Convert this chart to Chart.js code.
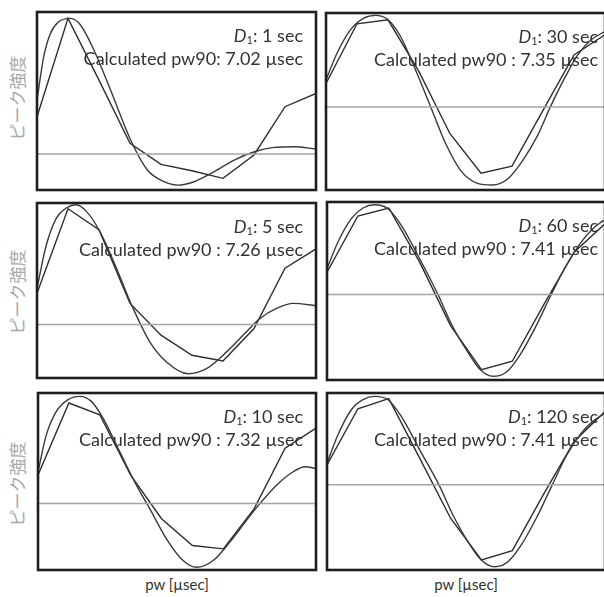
<!DOCTYPE html>
<html><head><meta charset="utf-8">
<script src="https://cdn.jsdelivr.net/npm/chart.js@4.4.0/dist/chart.umd.min.js"></script>
<style>
html,body{margin:0;padding:0;background:#fff;overflow:hidden;width:604px;height:597px;}
body{position:relative;}
canvas{position:absolute;}
.ylab{position:absolute;font-family:"Noto Sans CJK JP";font-size:17px;color:#a8a8a8;transform:translate(-50%,-50%) rotate(-90deg);white-space:nowrap;}
.xlab{position:absolute;font-family:Lato;font-size:15px;color:#333;transform:translate(-50%,-50%);white-space:nowrap;}
</style></head><body>
<div class="ylab" style="left:16px;top:98px">ピーク強度</div>
<div class="ylab" style="left:16px;top:292px">ピーク強度</div>
<div class="ylab" style="left:16px;top:484px">ピーク強度</div>
<div class="xlab" style="left:177px;top:584px">pw [µsec]</div>
<div class="xlab" style="left:466px;top:584px">pw [µsec]</div>
<script>
// pulse widths (µs) of measured points
const pwSteps = [1,5,9,13,17,21,25,29,33,37];
const d1Labels = ['1 sec','5 sec','10 sec','30 sec','60 sec','120 sec'];
const pw90Labels = ['Calculated pw90: 7.02 µsec','Calculated pw90 : 7.26 µsec','Calculated pw90 : 7.32 µsec',
                    'Calculated pw90 : 7.35 µsec','Calculated pw90 : 7.41 µsec','Calculated pw90 : 7.41 µsec'];

// D1 = 1 sec
const meas_1s = [0.275,1.0,0.545,0.079,-0.076,-0.123,-0.179,-0.007,0.349,0.447];
const fitPw_1s = [1.0,1.86,2.73,3.80,5.32,6.61,8.34,10.49,13.08,15.24,17.40,19.12,21.28,23.87,26.46,29.05,31.64,34.23,37.0];
const fitVal_1s = [0.398,0.717,0.889,0.975,1.0,0.951,0.767,0.472,0.103,-0.118,-0.204,-0.229,-0.204,-0.130,-0.044,0.017,0.049,0.054,0.037];
// D1 = 5 sec
const meas_5s = [0.260,0.966,0.791,0.176,-0.089,-0.257,-0.304,-0.034,0.469,0.631];
const fitPw_5s = [1,2.21,3.50,4.79,6.08,7.37,9.10,11.25,13.40,15.55,17.71,20.51,22.87,25.46,27.61,29.76,31.92,34.07,37.0];
const fitVal_5s = [0.302,0.665,0.888,0.972,1.0,0.944,0.777,0.469,0.134,-0.145,-0.313,-0.411,-0.369,-0.229,-0.089,0.050,0.134,0.176,0.156];
// D1 = 10 sec
const meas_10s = [0.266,0.938,0.828,0.266,-0.141,-0.391,-0.422,-0.047,0.516,0.703];
const fitPw_10s = [1,2.08,3.38,4.89,6.40,7.91,9.42,11.58,13.74,15.47,17.63,19.79,21.52,23.68,25.84,28.0,29.73,31.89,34.05,35.56,37.0];
const fitVal_10s = [0.297,0.641,0.859,0.969,1.0,0.953,0.797,0.484,0.172,-0.047,-0.328,-0.531,-0.594,-0.531,-0.359,-0.156,0,0.172,0.297,0.344,0.328];
// D1 = 30 sec
const meas_30s = [0.256,0.908,0.952,0.385,-0.293,-0.725,-0.648,-0.037,0.568,0.788];
const fitPw_30s = [1.00,2.42,4.15,5.88,7.39,8.90,10.62,12.56,14.51,16.45,18.39,20.55,22.49,24.43,26.37,28.31,29.95,31.77,33.49,35.22,36.99];
const fitVal_30s = [0.293,0.586,0.842,0.971,1.0,0.960,0.769,0.403,0,-0.403,-0.696,-0.835,-0.853,-0.788,-0.586,-0.311,0,0.311,0.568,0.733,0.824];
// D1 = 60 sec
const meas_60s = [0.249,0.874,0.963,0.361,-0.346,-0.836,-0.743,-0.123,0.472,0.788];
const fitPw_60s = [1,2.42,4.15,5.66,7.17,8.90,10.62,13.0,15.37,17.31,19.25,20.76,22.49,24.21,25.94,28.10,30.04,31.98,33.92,35.43,36.81];
const fitVal_60s = [0.286,0.584,0.844,0.963,1.0,0.955,0.770,0.398,0,-0.364,-0.643,-0.829,-0.911,-0.866,-0.680,-0.346,0,0.323,0.584,0.732,0.825];
// D1 = 120 sec
const meas_120s = [0.226,0.860,0.974,0.302,-0.377,-0.849,-0.743,-0.113,0.491,0.830];
const fitPw_120s = [1,2.42,4.15,5.66,7.17,8.90,10.62,13.0,15.50,17.31,19.25,20.98,22.70,24.43,26.16,28.31,30.17,32.07,33.92,35.43,36.81];
const fitVal_120s = [0.245,0.566,0.849,0.962,1.0,0.962,0.774,0.396,0,-0.340,-0.642,-0.849,-0.925,-0.868,-0.679,-0.340,0,0.340,0.585,0.717,0.800];

const yMins = [-0.265,-0.447,-0.619,-0.908,-0.952,-0.962];
const yMaxs = [1.047,1.014,1.031,1.026,1.030,1.038];

const measSets = [meas_1s,meas_5s,meas_10s,meas_30s,meas_60s,meas_120s];
const fitPwSets = [fitPw_1s,fitPw_5s,fitPw_10s,fitPw_30s,fitPw_60s,fitPw_120s];
const fitValSets = [fitVal_1s,fitVal_5s,fitVal_10s,fitVal_30s,fitVal_60s,fitVal_120s];

// layout: plot boxes [left, top, right, bottom], text right inset
const boxes = [[37,12,316,190],[37,203,316,378],[38,393,316,570],[326,13,605,190],[327,202,605,380],[327,393,605,570]];
const textInset = [13,13,13,7,7,7];
const PAD = 4;

const framePlugin = {
  id:'frame',
  afterDraw(chart){
    const a = chart.chartArea, c = chart.ctx;
    c.save(); c.strokeStyle='#1e1e1e'; c.lineWidth=2.6;
    c.strokeRect(a.left,a.top,a.right-a.left,a.bottom-a.top); c.restore();
  }
};
const textPlugin = {
  id:'ptext',
  beforeDatasetsDraw(chart, args, opts){
    const a = chart.chartArea, c = chart.ctx;
    const rx = a.right - opts.inset;
    c.save(); c.fillStyle='#333'; c.textBaseline='middle';
    const fs = 18;
    c.font = `italic ${fs}px Lato`; const wD = c.measureText('D').width;
    c.font = `${Math.round(fs*0.6)}px Lato`; const w1 = c.measureText('1').width;
    c.font = `${fs}px Lato`; const wR = c.measureText(': '+opts.d1).width;
    let x = rx - (wD+w1+wR); const y1 = a.top + 24;
    c.textAlign='left';
    c.font = `italic ${fs}px Lato`; c.fillText('D', x, y1); x += wD;
    c.font = `${Math.round(fs*0.6)}px Lato`; c.fillText('1', x, y1+4); x += w1;
    c.font = `${fs}px Lato`; c.fillText(': '+opts.d1, x, y1);
    c.textAlign='right';
    c.fillText(opts.pw, rx, a.top + 47);
    c.restore();
  }
};

for (let i=0;i<6;i++){
  const [l,t,r,b] = boxes[i];
  const cv = document.createElement('canvas');
  cv.width = r-l+2*PAD; cv.height = b-t+2*PAD;
  cv.style.left = (l-PAD)+'px'; cv.style.top = (t-PAD)+'px';
  cv.style.width = cv.width+'px'; cv.style.height = cv.height+'px';
  document.body.appendChild(cv);
  new Chart(cv, {
    type:'line',
    data:{datasets:[
      {data:[{x:pwSteps[0],y:0},{x:pwSteps[pwSteps.length-1],y:0}],borderColor:'#a5a5a5',borderWidth:1.5,pointRadius:0},
      {data:fitPwSets[i].map((p,k)=>({x:p,y:fitValSets[i][k]})),borderColor:'#3a3a3a',borderWidth:1.4,pointRadius:0,cubicInterpolationMode:'monotone'},
      {data:pwSteps.map((p,k)=>({x:p,y:measSets[i][k]})),borderColor:'#2e2e2e',borderWidth:1.4,pointRadius:0,tension:0}
    ]},
    options:{
      responsive:false, animation:false, devicePixelRatio:1,
      layout:{padding:PAD},
      scales:{
        x:{type:'linear',min:1,max:37,display:false},
        y:{min:yMins[i],max:yMaxs[i],display:false}
      },
      plugins:{legend:{display:false},tooltip:{enabled:false},
        ptext:{d1:d1Labels[i],pw:pw90Labels[i],inset:textInset[i]}}
    },
    plugins:[framePlugin,textPlugin]
  });
}
</script>
</body></html>
